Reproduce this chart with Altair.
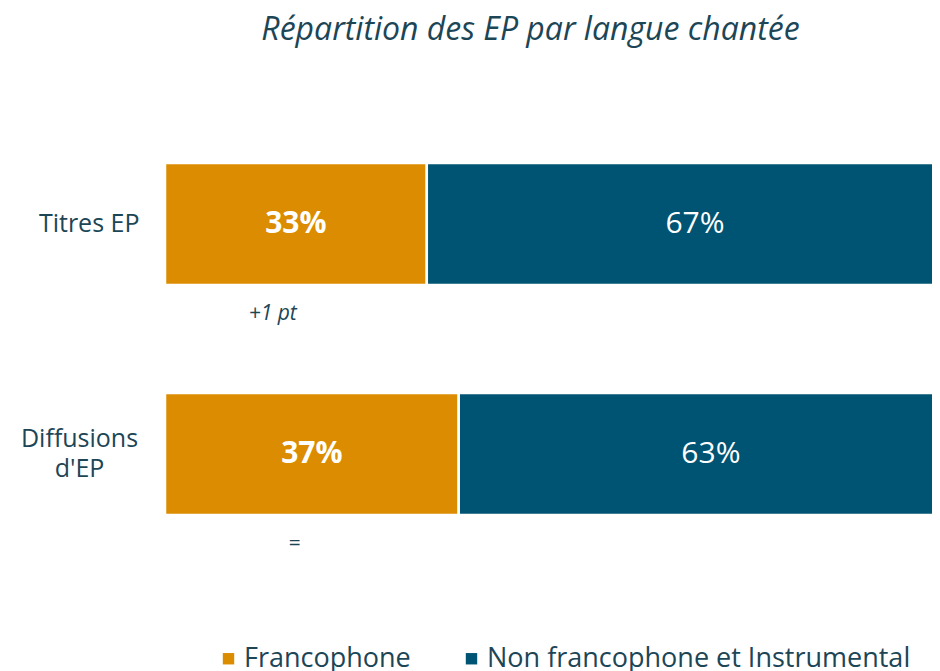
import altair as alt
import pandas as pd

categories = ["Titres EP", "Diffusions d'EP"]
series = ["Francophone", "Non francophone et Instrumental"]
francophone = [32.8, 36.8]
non_francophone = [67.2, 63.2]
annotations = ["+1 pt", "="]
annotation_pos = [13.5, 16.2]

colors = ["#DB8C00", "#005473"]
FONT = "Open Sans"
TXT = "#1c4656"

rows = []
for i, c in enumerate(categories):
    start = 0.0
    for s, vals in zip(series, [francophone, non_francophone]):
        v = vals[i]
        rows.append({"cat": c, "series": s, "start": start, "end": start + v,
                     "mid": start + v / 2, "label": f"{round(v)}%",
                     "bold": s == series[0]})
        start += v
df = pd.DataFrame(rows)
ann = pd.DataFrame({"cat": categories, "text": annotations, "pos": annotation_pos})

yscale = alt.Scale(domain=categories, paddingInner=0.47, paddingOuter=0.235)
xscale = alt.Scale(domain=[0, 96.1], nice=False, zero=True)

IS2 = "datum.value == \"Diffusions d'EP\""
yaxis = alt.Axis(
    title=None, ticks=False, domain=False,
    labelAlign=alt.ExprRef(IS2 + " ? 'center' : 'right'"),
    labelPadding=alt.ExprRef(IS2 + " ? 86 : 26"),
    labelFontSize=25, labelFont=FONT, labelColor=TXT,
    labelLineHeight=30, labelBaseline="middle", grid=False,
    labelOffset=alt.ExprRef(IS2 + " ? -15 : 0"),
    labelExpr=IS2 + " ? ['Diffusions', \"d'EP\"] : datum.label",
)

bars = alt.Chart(df).mark_bar(stroke="white", strokeWidth=2.5, clip=True).encode(
    y=alt.Y("cat:N", scale=yscale, axis=yaxis),
    x=alt.X("start:Q", scale=xscale, axis=None),
    x2="end:Q",
    color=alt.Color("series:N", scale=alt.Scale(domain=series, range=colors),
                    legend=alt.Legend(title=None, orient="none", direction="horizontal",
                                      legendX=50, legendY=536, symbolType="square",
                                      symbolSize=130, symbolStrokeWidth=0,
                                      labelFontSize=27, labelFont=FONT, labelColor=TXT,
                                      labelLimit=600, columnPadding=47, labelOffset=2)),
)

labels_bold = alt.Chart(df[df["bold"]]).mark_text(
    color="white", fontSize=30, fontWeight="bold", font=FONT, baseline="middle"
).encode(y=alt.Y("cat:N", scale=yscale), x=alt.X("mid:Q", scale=xscale), text="label:N")

labels_norm = alt.Chart(df[~df["bold"]]).mark_text(
    color="white", fontSize=30, font=FONT, baseline="middle"
).encode(y=alt.Y("cat:N", scale=yscale), x=alt.X("mid:Q", scale=xscale), text="label:N")

ann_text = alt.Chart(ann).mark_text(
    color=TXT, fontSize=21, fontStyle="italic", font=FONT, baseline="middle", dy=90
).encode(y=alt.Y("cat:N", scale=yscale), x=alt.X("pos:Q", scale=xscale), text="text:N")

chart = alt.layer(bars, labels_bold, labels_norm, ann_text).properties(
    width=767, height=460,
    autosize=alt.AutoSizeParams(type="none"),
    padding={"left": 157, "top": 101, "right": 0, "bottom": 102},
    title=alt.TitleParams("Répartition des EP par langue chantée", fontSize=32,
                          fontStyle="italic", fontWeight="normal", font=FONT,
                          color=TXT, anchor="middle", dx=-18, offset=62),
).configure_view(stroke=None)

chart.save("out.html", embed_options={"renderer": "svg", "actions": False})
